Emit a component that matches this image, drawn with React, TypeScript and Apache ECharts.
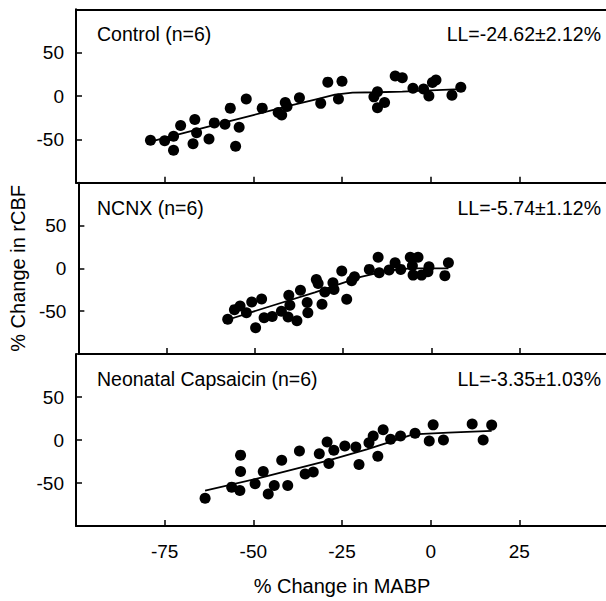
import React, { useEffect, useRef } from "react";
import * as echarts from "echarts";

const FONT = '"Liberation Sans", Arial, Helvetica, sans-serif';

const panelNames = ["Control (n=6)", "NCNX (n=6)", "Neonatal Capsaicin (n=6)"];
const llTexts = ["LL=-24.62±2.12%", "LL=-5.74±1.12%", "LL=-3.35±1.03%"];
const xTickLabels = [-75, -50, -25, 0, 25];
const yTickLabels = [-50, 0, 50];
const xAxisTitle = "% Change in MABP";
const yAxisTitle = "% Change in rCBF";

// Control (n=6)
const controlX = [-79, -75, -72.5, -72.5, -70.5, -66.5, -66, -67, -62.5, -61, -58, -56.5, -54, -55, -52, -47.5, -43, -42, -41, -40.5, -37, -31, -29, -25, -26, -15, -16, -15, -13, -10, -8, -5, -2, -0.5, 0.5, 1.5, 6, 8.5];
const controlY = [-51, -51.5, -46.5, -62.5, -34, -27, -42.5, -55, -49.5, -31, -32.5, -14, -36, -58, -3.5, -14, -19, -22, -7.5, -12, -2, -8.5, 16, 17, -3.5, 5, -1, -13.5, -7.5, 23, 21, 9, 8, 0, 15.5, 18.5, 1, 10];
const controlFitX = [-79, -70, -60, -50, -40, -32, -27, -22, -15, -8, 0, 8.6];
const controlFitY = [-52.5, -43, -32.5, -22, -11.5, -3.5, 1.5, 3.8, 4.3, 5, 6.5, 8];

// NCNX (n=6)
const ncnxX = [-57.7, -55.8, -54.2, -52.4, -50.9, -49.8, -48.1, -47.4, -45.1, -42.5, -40.6, -40.4, -40.1, -38.1, -37.1, -35.2, -35, -32.6, -32.1, -31, -30.2, -27.9, -27.6, -25.4, -24, -22.6, -21.8, -17.6, -15.1, -14.8, -12, -10.3, -8.7, -6, -3.8, -5.4, -5.2, -2.8, -0.7, -1, 4.8, 3.8];
const ncnxY = [-59.3, -48.2, -44, -51.8, -39.3, -69.4, -35.8, -57.6, -56.1, -50.2, -56.9, -31.4, -43.2, -61.2, -25.5, -40, -51.8, -12.9, -17.6, -42, -27.5, -16.9, -24.7, -3.2, -36.1, -14.6, -9.9, -1.2, 12.9, -5.2, -2, 6.6, -1.2, 12.9, 12.9, 3.1, -7.9, -7.9, 1.9, -4, 6.6, -8.5];
const ncnxFitX = [-57.7, -47, -33, -20, -12, -6, 4.8];
const ncnxFitY = [-60, -46, -28, -10, -2.5, 0, 0];

// Neonatal Capsaicin (n=6)
const capsX = [-63.6, -56.1, -53.8, -53.6, -53.6, -49.5, -47.2, -45.8, -44.1, -42, -40.3, -37, -35.4, -33.1, -31.4, -29.2, -28.7, -27.3, -24.2, -21.1, -20.2, -17.4, -16.2, -14.9, -13.4, -11.3, -8.5, -4.4, -0.4, 0.7, 3.6, 11.7, 14.8, 17.2];
const capsY = [-67.8, -54.8, -58.8, -17.6, -36.5, -50.9, -36.5, -62.7, -52.9, -23.5, -52.9, -12.9, -39.5, -37.2, -16, -2.4, -27.4, -11.8, -7.1, -8.2, -28.6, -3.1, 4.7, -18.8, 11.8, 0.8, 4.7, 7.9, -1.2, 17.6, 0, 18.5, 0, 17.3];
const capsFitX = [-63.6, -47, -29, -18, -10.5, -5, 5, 17.2];
const capsFitY = [-59, -43, -24, -11, -1, 6.5, 8.5, 10.5];

const pointSets = [
  [controlX, controlY],
  [ncnxX, ncnxY],
  [capsX, capsY],
];
const fitSets = [
  [controlFitX, controlFitY],
  [ncnxFitX, ncnxFitY],
  [capsFitX, capsFitY],
];

const zip = (xs: number[], ys: number[]) => xs.map((x, i) => [x, ys[i]]);

export default function App() {
  const ref = useRef<HTMLDivElement>(null);
  useEffect(() => {
    if (!ref.current) return;
    const chart = echarts.init(ref.current, undefined, { renderer: "svg" });
    const tops = [9.3, 182.7, 354];
    const heights = [173.4, 171.3, 172];
    const gridLeft = 76;
    const gridWidth = 532;

    const grids = tops.map((t, i) => ({ left: gridLeft, width: gridWidth, top: t, height: heights[i], show: false }));

    const axisLine = { show: true, onZero: false, lineStyle: { color: "#000", width: 2 } };

    const xAxes: any[] = tops.map((_, i) => ({
      gridIndex: i,
      type: "value",
      min: -100,
      max: 50,
      interval: 25,
      axisLine,
      axisTick: {
        show: true,
        inside: true,
        length: 6,
        lineStyle: { color: "#000", width: 1.5 },
      },
      axisLabel: {
        show: i === 2,
        margin: 16,
        fontSize: 19,
        color: "#000",
        fontFamily: FONT,
        formatter: (v: number) => (xTickLabels.includes(v) ? String(v) : ""),
      },
      splitLine: { show: false },
      ...(i === 2
        ? {
            name: xAxisTitle,
            nameLocation: "middle",
            nameGap: 50,
            nameTextStyle: { fontSize: 20, color: "#000", fontFamily: FONT },
          }
        : {}),
    }));
    xAxes.push({
      gridIndex: 0,
      type: "value",
      position: "top",
      min: -100,
      max: 50,
      axisLine,
      axisTick: { show: false },
      axisLabel: { show: false },
      splitLine: { show: false },
    });

    const yAxes = tops.map((_, i) => ({
      gridIndex: i,
      type: "value",
      min: -100,
      max: 100,
      interval: 50,
      axisLine,
      axisTick: { show: true, inside: true, length: 6, lineStyle: { color: "#000", width: 1.5 } },
      axisLabel: {
        margin: 12,
        fontSize: 19,
        color: "#000",
        fontFamily: FONT,
        formatter: (v: number) => (yTickLabels.includes(v) ? String(v) : ""),
      },
      splitLine: { show: false },
      ...(i === 1
        ? {
            name: yAxisTitle,
            nameLocation: "middle",
            nameGap: 47,
            nameTextStyle: { fontSize: 20, color: "#000", fontFamily: FONT },
          }
        : {}),
    }));

    const series: any[] = [];
    tops.forEach((_, i) => {
      series.push({
        type: "line",
        xAxisIndex: i,
        yAxisIndex: i,
        data: zip(fitSets[i][0], fitSets[i][1]),
        showSymbol: false,
        symbol: "none",
        lineStyle: { color: "#000", width: 1.8 },
        z: 2,
      });
      series.push({
        type: "scatter",
        xAxisIndex: i,
        yAxisIndex: i,
        data: zip(pointSets[i][0], pointSets[i][1]),
        symbol: "circle",
        symbolSize: 11,
        itemStyle: { color: "#000", opacity: 1 },
        z: 3,
      });
    });

    const graphic: any[] = [];
    tops.forEach((t, i) => {
      graphic.push({
        type: "text",
        x: 97,
        y: t + 25,
        style: {
          text: panelNames[i],
          fontSize: 19.5,
          fontFamily: FONT,
          fill: "#000",
          textAlign: "left",
          textVerticalAlign: "middle",
        },
      });
      graphic.push({
        type: "text",
        x: 601,
        y: t + 25,
        style: {
          text: llTexts[i],
          fontSize: 19.5,
          fontFamily: FONT,
          fill: "#000",
          textAlign: "right",
          textVerticalAlign: "middle",
        },
      });
    });

    chart.setOption({
      animation: false,
      backgroundColor: "#fff",
      textStyle: { fontFamily: FONT },
      grid: grids,
      xAxis: xAxes,
      yAxis: yAxes,
      series,
      graphic,
    });
    return () => chart.dispose();
  }, []);
  return (
    <div style={{ position: "fixed", left: 0, top: 0, width: 606, height: 601, overflow: "hidden", background: "#fff" }}>
      <div ref={ref} style={{ width: 640, height: 601 }} />
    </div>
  );
}
